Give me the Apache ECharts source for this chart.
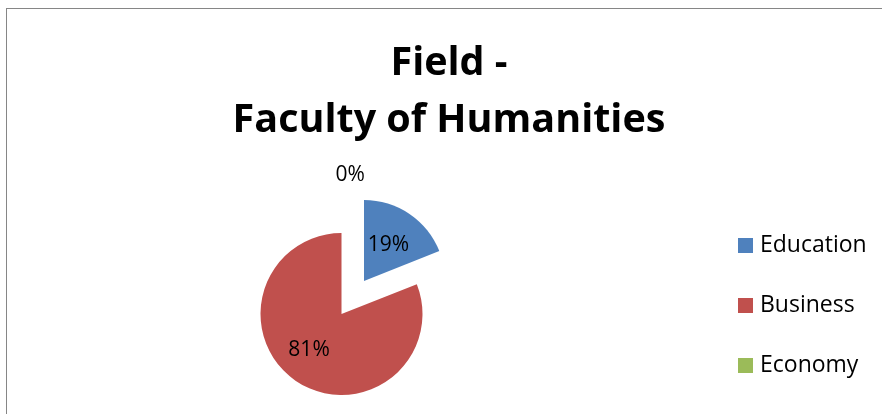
<!DOCTYPE html>
<html>
<head>
<meta charset="utf-8">
<script src="https://cdn.jsdelivr.net/npm/echarts@6/dist/echarts.min.js"></script>
<style>
html,body{margin:0;padding:0;background:#fff;}
#frame{position:absolute;left:6px;top:8px;width:900px;height:420px;border:1.5px solid #868686;box-sizing:border-box;}
#chart{position:absolute;left:0;top:0;width:882px;height:414px;}
</style>
</head>
<body>
<div id="frame"></div>
<div id="chart"></div>
<script>
const titleLines = ['Field -', 'Faculty of Humanities'];
const categories = ['Education', 'Business', 'Economy'];
const values = [19, 81, 0];
const colors = ['#4F81BD', '#C0504D', '#9BBB59'];
const explodedCategory = 'Education';

const FONT = '"Open Sans"';
const labelPads = {Education: [8, 0, 0, 0], Business: [0, 16, 14, 0]};
const chart = echarts.init(document.getElementById('chart'), null, {renderer: 'canvas'});
const data = categories.map((c, i) => {
  const item = {name: c, value: values[i], itemStyle: {color: colors[i]}};
  if (c === explodedCategory) item.selected = true;
  if (labelPads[c]) item.label = {padding: labelPads[c]};
  if (values[i] === 0) {
    item.label = {position: 'outside', distanceToLabelLine: -6};
    item.labelLine = {show: false, length: 58, length2: 0};
  }
  return item;
});
chart.setOption({
  animation: false,
  backgroundColor: 'transparent',
  title: {
    text: titleLines.join('\n'),
    left: 449,
    textAlign: 'center',
    top: 30,
    padding: [5, 0, 5, 0],
    textStyle: {fontFamily: FONT, fontWeight: 'bold', fontSize: 39.5, lineHeight: 57, color: '#000'}
  },
  legend: {
    orient: 'vertical',
    left: 733,
    top: 228,
    itemWidth: 15,
    itemHeight: 15,
    itemGap: 35,
    icon: 'rect',
    selectedMode: false,
    data: categories,
    textStyle: {fontFamily: FONT, fontSize: 23, color: '#000', lineHeight: 25, padding: [0, 0, 0, 2]}
  },
  series: [{
    type: 'pie',
    center: [341.5, 314],
    radius: 81,
    startAngle: 90,
    clockwise: true,
    selectedMode: 'multiple',
    selectedOffset: 40,
    avoidLabelOverlap: false,
    stillShowZeroSum: true,
    minShowLabelAngle: 0,
    label: {
      show: true,
      position: 'inside',
      formatter: '{d}%',
      fontFamily: FONT,
      fontSize: 21,
      color: '#000'
    },
    labelLine: {show: false},
    emphasis: {disabled: true},
    itemStyle: {borderWidth: 0},
    data: data
  }]
});
</script>
</body>
</html>
